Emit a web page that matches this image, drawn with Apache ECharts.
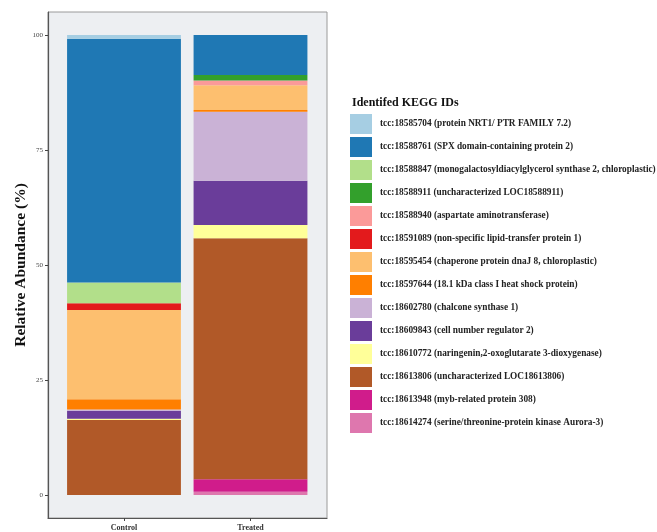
<!DOCTYPE html>
<html>
<head>
<meta charset="utf-8">
<script src="https://cdn.jsdelivr.net/npm/echarts@6/dist/echarts.min.js"></script>
<style>
  html, body { margin: 0; padding: 0; background: #fff; }
  #chart { width: 657px; height: 532px; }
</style>
</head>
<body>
<div id="chart"></div>
<script>
const categories = ['Control', 'Treated'];

const keggIds = [
  'tcc:18585704 (protein NRT1/ PTR FAMILY 7.2)',
  'tcc:18588761 (SPX domain-containing protein 2)',
  'tcc:18588847 (monogalactosyldiacylglycerol synthase 2, chloroplastic)',
  'tcc:18588911 (uncharacterized LOC18588911)',
  'tcc:18588940 (aspartate aminotransferase)',
  'tcc:18591089 (non-specific lipid-transfer protein 1)',
  'tcc:18595454 (chaperone protein dnaJ 8, chloroplastic)',
  'tcc:18597644 (18.1 kDa class I heat shock protein)',
  'tcc:18602780 (chalcone synthase 1)',
  'tcc:18609843 (cell number regulator 2)',
  'tcc:18610772 (naringenin,2-oxoglutarate 3-dioxygenase)',
  'tcc:18613806 (uncharacterized LOC18613806)',
  'tcc:18613948 (myb-related protein 308)',
  'tcc:18614274 (serine/threonine-protein kinase Aurora-3)'
];

// relative abundance (%) per KEGG id, same order as keggIds
const controlValues = [0.8, 53.0, 4.5, 0, 0, 1.5, 19.4, 2.2, 0.3, 1.7, 0.3, 16.3, 0, 0];
const treatedValues = [0, 8.7, 0, 1.2, 1.0, 0, 5.4, 0.4, 15.0, 9.6, 2.9, 52.4, 2.7, 0.7];

const yTicks = [0, 25, 50, 75, 100];

const colors = [
  '#a6cee3', '#1f78b4', '#b2df8a', '#33a02c', '#fb9a99', '#e31a1c', '#fdbf6f',
  '#ff7f00', '#cab2d6', '#6a3d9a', '#ffff99', '#b15928', '#d01c8b', '#de77ae'
];

const serif = '"Liberation Serif", "DejaVu Serif", serif';

let chart = echarts.init(document.getElementById('chart'));

// ggplot stacks the first level on top, so push series bottom-up
let series = [];
for (let i = keggIds.length - 1; i >= 0; i--) {
  series.push({
    name: keggIds[i],
    type: 'bar',
    stack: 'total',
    barWidth: '90%',
    xAxisIndex: 1,
    yAxisIndex: 1,
    itemStyle: { color: colors[i] },
    data: [controlValues[i], treatedValues[i]]
  });
}

let option = {
  animation: false,
  title: {
    text: 'Identifed KEGG IDs',
    left: 347,
    top: 92,
    textStyle: { fontFamily: serif, fontWeight: 'bold', fontSize: 12, color: '#111' }
  },
  legend: {
    data: keggIds,
    orient: 'vertical',
    left: 350,
    top: 114,
    padding: 0,
    icon: 'rect',
    itemWidth: 22,
    itemHeight: 20,
    itemGap: 3,
    textStyle: { fontFamily: serif, fontWeight: 'bold', fontSize: 9.3, color: '#222', padding: [0, 0, 0, 3] }
  },
  grid: [
    // panel (ggplot expands the discrete axis by 0.6 on each side)
    {
      left: 48, top: 12, width: 279, height: 506,
      show: true, backgroundColor: '#edeff2', borderColor: '#9a9a9a', borderWidth: 1
    },
    // bars
    { left: 60.75, top: 12, width: 253, height: 506 }
  ],
  xAxis: [
    {
      type: 'value',
      gridIndex: 0,
      min: 0,
      max: 1,
      splitLine: { show: false },
      axisTick: { show: false },
      axisLabel: { show: false },
      axisLine: { show: true, onZero: false, lineStyle: { color: '#555', width: 1.2 } }
    },
    {
      type: 'category',
      gridIndex: 1,
      data: categories,
      axisLine: { show: false, onZero: false },
      axisTick: { show: true, alignWithLabel: true, length: 3, lineStyle: { color: '#444' } },
      axisLabel: {
        margin: 6,
        fontFamily: serif,
        fontWeight: 'bold',
        fontSize: 8,
        color: '#333'
      }
    }
  ],
  yAxis: [
    {
      type: 'value',
      gridIndex: 0,
      min: -5,
      max: 105,
      name: 'Relative Abundance (%)',
      nameLocation: 'middle',
      nameRotate: 90,
      nameGap: 19,
      nameTextStyle: { fontFamily: serif, fontWeight: 'bold', fontSize: 15.5, color: '#111' },
      splitLine: { show: false },
      axisLine: { show: true, onZero: false, lineStyle: { color: '#555', width: 1.2 } },
      axisTick: { show: true, length: 3, customValues: yTicks, lineStyle: { color: '#444' } },
      axisLabel: {
        customValues: yTicks,
        margin: 5,
        fontFamily: serif,
        fontSize: 7,
        color: '#444'
      }
    },
    {
      type: 'value',
      gridIndex: 1,
      min: -5,
      max: 105,
      show: false,
      splitLine: { show: false }
    }
  ],
  series: series
};

option && chart.setOption(option);
</script>
</body>
</html>
